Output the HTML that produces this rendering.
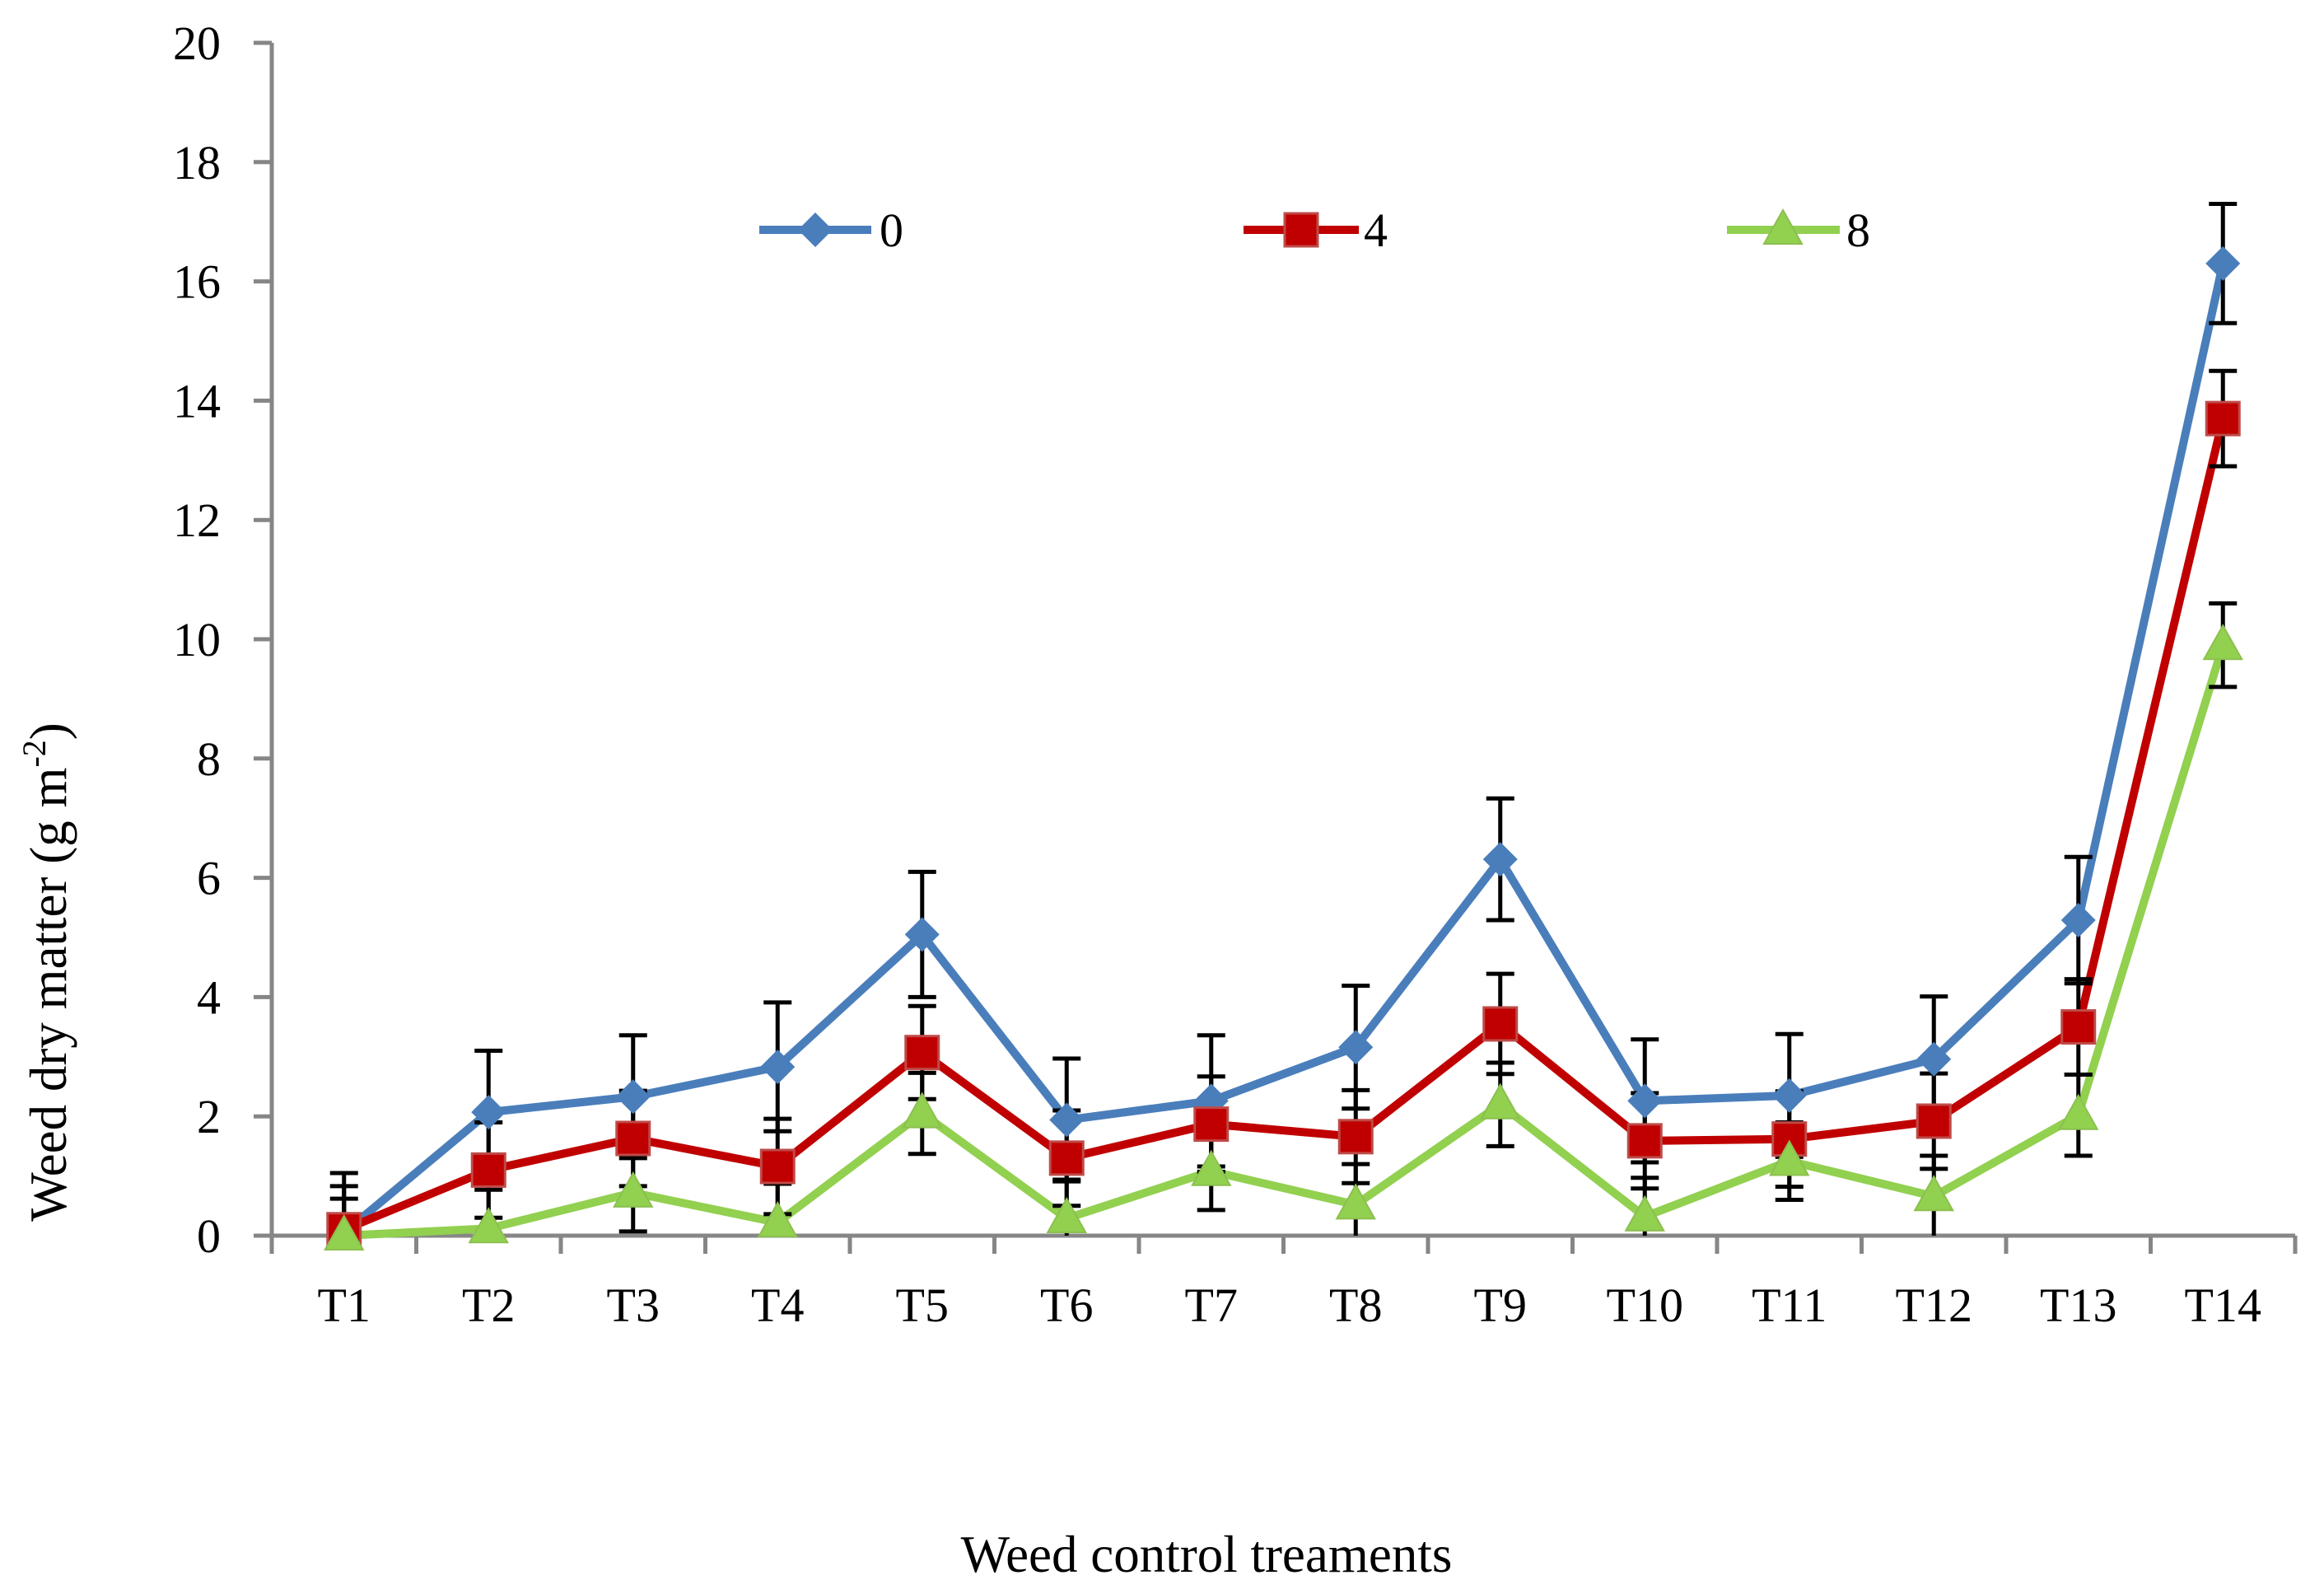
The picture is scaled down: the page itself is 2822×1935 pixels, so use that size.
<!DOCTYPE html>
<html><head><meta charset="utf-8"><style>
html,body{margin:0;padding:0;background:#fff}
svg{display:block}
text{font-family:"Liberation Serif",serif;fill:#000}
</style></head><body>
<svg id="chart" width="2822" height="1935" viewBox="0 0 2822 1935" xmlns="http://www.w3.org/2000/svg">
<rect x="0" y="0" width="2822" height="1935" fill="#fff"/>
<g id="axes"></g>
<g id="lines"></g>
<g id="errs"></g>
<g id="marks"></g>
<g id="legend"></g>
<text x="1465" y="1908" font-size="63" text-anchor="middle">Weed control treaments</text>
<text transform="translate(80,1180) rotate(-90)" font-size="63" text-anchor="middle">Weed dry matter (g m<tspan font-size="40" dy="-25">-2</tspan><tspan dy="25">)</tspan></text>
</svg>
<script>
const categories = ["T1","T2","T3","T4","T5","T6","T7","T8","T9","T10","T11","T12","T13","T14"];
const yTicks = [0,2,4,6,8,10,12,14,16,18,20];
const seriesNames = ["0","4","8"];
const values0 = [0.05,2.07,2.33,2.83,5.05,1.94,2.26,3.16,6.31,2.26,2.35,2.96,5.29,16.3];
const values4 = [0.1,1.1,1.63,1.16,3.07,1.3,1.87,1.66,3.55,1.59,1.62,1.92,3.5,13.7];
const values8 = [0.0,0.12,0.72,0.22,2.05,0.29,1.08,0.52,2.2,0.32,1.25,0.66,2.02,9.9];
const errors0 = [1.0,1.03,1.03,1.08,1.05,1.03,1.1,1.03,1.02,1.03,1.03,1.05,1.06,1.0];
const errors4 = [0.73,0.8,0.8,0.8,0.78,0.8,0.8,0.78,0.84,0.8,0.8,0.8,0.8,0.8];
const errors8 = [0.62,0.65,0.65,0.65,0.68,0.65,0.65,0.68,0.7,0.65,0.65,0.68,0.68,0.7];

const NS="http://www.w3.org/2000/svg";
const X0=330, XW=175.5, Y0=1500, YPU=72.4;
function xPos(i){return X0+XW*(i+0.5);}
function yPos(v){return Y0-v*YPU;}
function mk(tag,attrs,parent){const e=document.createElementNS(NS,tag);for(const k in attrs)e.setAttribute(k,attrs[k]);parent.appendChild(e);return e;}

const axes=document.getElementById('axes');
let ya=mk('line',{x1:X0,y1:yPos(20),x2:X0,y2:Y0+22,stroke:'#868686','stroke-width':5},axes);


yTicks.forEach(t=>{
  const l=mk('line',{x1:X0-22,y1:yPos(t),x2:X0,y2:yPos(t),stroke:'#868686','stroke-width':5},axes);
  
  
  const tx=mk('text',{x:268,y:yPos(t)+20,'font-size':58,'text-anchor':'end'},axes);
  tx.textContent=t;
  
  
});
let xa=mk('line',{x1:X0,y1:Y0,x2:X0+XW*categories.length,y2:Y0,stroke:'#868686','stroke-width':5},axes);


for(let i=0;i<=categories.length;i++){
  const l=mk('line',{x1:X0+XW*i,y1:Y0,x2:X0+XW*i,y2:Y0+22,stroke:'#868686','stroke-width':5},axes);
  
  
}
categories.forEach((c,i)=>{
  const tx=mk('text',{x:xPos(i),y:1604,'font-size':58,'text-anchor':'middle'},axes);
  tx.textContent=c;
  
  
});

const series=[
  {vals:values0,errs:errors0,color:'#4a7ebb',shape:'diamond'},
  {vals:values4,errs:errors4,color:'#c00000',shape:'square'},
  {vals:values8,errs:errors8,color:'#92d050',shape:'triangle'}
];
function marker(shape,x,y,color,parent){
  let e;
  if(shape==='diamond') e=mk('polygon',{points:`${x},${y-21} ${x+21},${y} ${x},${y+21} ${x-21},${y}`,fill:color},parent);
  else if(shape==='square') e=mk('rect',{x:x-20,y:y-20,width:40,height:40,fill:color,stroke:'#be4b48','stroke-width':3},parent);
  else e=mk('polygon',{points:`${x},${y-24} ${x+23},${y+17} ${x-23},${y+17}`,fill:color,stroke:'#8cbf4f','stroke-width':2},parent);
  return e;
}
const lines=document.getElementById('lines'),errs=document.getElementById('errs'),marks=document.getElementById('marks');
series.forEach((s,si)=>{
  const pts=s.vals.map((v,i)=>xPos(i)+','+yPos(v)).join(' ');
  const pl=mk('polyline',{points:pts,fill:'none',stroke:s.color,'stroke-width':10,'stroke-linejoin':'round'},lines);
  
  
  s.vals.forEach((v,i)=>{
    const x=xPos(i),yt=yPos(v+s.errs[i]),yb=yPos(Math.max(0,v-s.errs[i]));
    const g=mk('g',{stroke:'#000','stroke-width':5},errs);
    
    
    mk('line',{x1:x,y1:yt,x2:x,y2:yb},g);
    mk('line',{x1:x-17,y1:yt,x2:x+17,y2:yt},g);
    if(v-s.errs[i]>0) mk('line',{x1:x-17,y1:yb,x2:x+17,y2:yb},g);
  });
});
series.forEach((s,si)=>{
  s.vals.forEach((v,i)=>{
    const m=marker(s.shape,xPos(i),yPos(v),s.color,marks);
    
    
  });
});
const legend=document.getElementById('legend');
const legX=[[922,1058,990,1068],[1510,1650,1580,1656],[2097,2234,2165,2242]];
series.forEach((s,si)=>{
  const g=mk('g',{},legend);
  
  
  const [a,b,m,t]=legX[si];
  mk('line',{x1:a,y1:279,x2:b,y2:279,stroke:s.color,'stroke-width':10},g);
  marker(s.shape,m,279,s.color,g);
  const tx=mk('text',{x:t,y:299,'font-size':58},g);
  tx.textContent=seriesNames[si];
});
</script>
</body></html>
